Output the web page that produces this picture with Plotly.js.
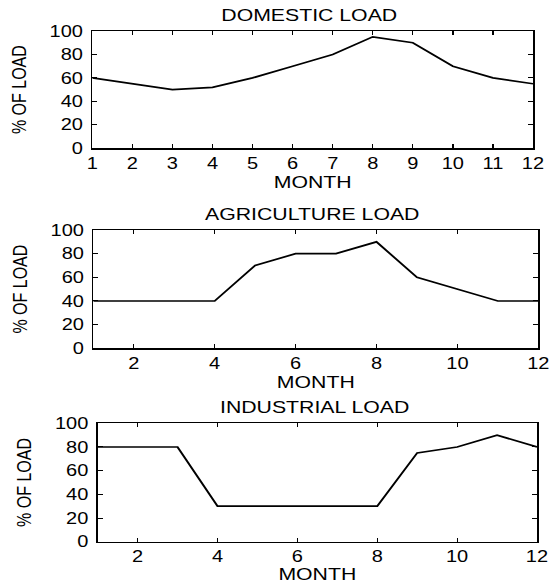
<!DOCTYPE html>
<html>
<head>
<meta charset="utf-8">
<script src="https://cdn.plot.ly/plotly-3.0.1.min.js"></script>
<style>
html,body{margin:0;padding:0;background:#fff;overflow:hidden;width:549px;height:584px;}
#chart{width:444px;height:584px;transform:scaleX(1.25);transform-origin:0 0;}
</style>
</head>
<body>
<div id="chart"></div>
<script>
const months = [1,2,3,4,5,6,7,8,9,10,11,12];
const domesticLoad = [60,55,50,52,60,70,80,95,90,70,60,55];
const agricultureLoad = [40,40,40,40,70,80,80,90,60,50,40,40];
const industrialLoad = [80,80,80,30,30,30,30,30,75,80,90,80];
const subplotTitles = ["DOMESTIC LOAD","AGRICULTURE LOAD","INDUSTRIAL LOAD"];
const xTitle = "MONTH";
const yTitle = "% OF LOAD";
const yTicks = [0,20,40,60,80,100];
const xTicksTop = [1,2,3,4,5,6,7,8,9,10,11,12];
const xTicksOther = [2,4,6,8,10,12];

// the figure is drawn at a narrower width and stretched horizontally (like the reference)
const SX = 1.25;
const W = 444, H = 584;   // internal paper slightly wider than 549/SX so edge labels fit
const fam = "Liberation Sans, Arial, sans-serif";
const tickFont = {family: fam, size: 16, color: "#000"};
const titleFont = {family: fam, size: 17, color: "#000"};
const yTitleFont = {family: fam, size: 16, color: "#000"};

// pixel boxes in final picture [left, right, top, bottom]
const boxes = [
  [92.3, 533, 31, 148.3],
  [93.3, 538.3, 230, 348.3],
  [97.7, 537, 423.3, 541.7]
];
const series = [domesticLoad, agricultureLoad, industrialLoad];
const xticksets = [xTicksTop, xTicksOther, xTicksOther];

const data = [];
const layout = {
  width: W, height: H,
  margin: {l:0, r:0, t:0, b:0},
  paper_bgcolor: "#fff", plot_bgcolor: "#fff",
  showlegend: false,
  font: tickFont,
  annotations: []
};

boxes.forEach((b, i) => {
  const sfx = i === 0 ? "" : String(i+1);
  const l = b[0] / SX, r = b[1] / SX;
  data.push({
    x: months, y: series[i],
    xaxis: "x" + sfx, yaxis: "y" + sfx,
    type: "scatter", mode: "lines",
    line: {color: "#000", width: 1.7},
    hoverinfo: "skip"
  });
  const common = {
    showline: true, linecolor: "#000", linewidth: 1.3,
    mirror: "ticks", ticks: "inside", ticklen: 4, tickwidth: 1, tickcolor: "#000",
    showgrid: false, zeroline: false, fixedrange: true,
    tickfont: tickFont
  };
  layout["xaxis" + sfx] = Object.assign({}, common, {
    domain: [l / W, r / W],
    anchor: "y" + sfx,
    range: [1, 12],
    tickmode: "array", tickvals: xticksets[i], ticktext: xticksets[i].map(String),
    title: {text: xTitle, font: titleFont, standoff: 5}
  });
  layout["yaxis" + sfx] = Object.assign({}, common, {
    domain: [1 - b[3]/H, 1 - b[2]/H],
    anchor: "x" + sfx,
    range: [0, 100],
    tickmode: "array", tickvals: yTicks, ticktext: yTicks.map(String),
    ticklabelstandoff: 3,
    title: {text: yTitle, font: yTitleFont, standoff: 14}
  });
  layout.annotations.push({
    text: subplotTitles[i],
    xref: "paper", yref: "paper",
    x: ((l + r) / 2 - 2.5) / W,
    y: 1 - (b[2] - 15.5) / H,
    xanchor: "center", yanchor: "middle",
    showarrow: false, font: titleFont
  });
});

Plotly.newPlot("chart", data, layout, {displayModeBar: false, staticPlot: true});
</script>
</body>
</html>
